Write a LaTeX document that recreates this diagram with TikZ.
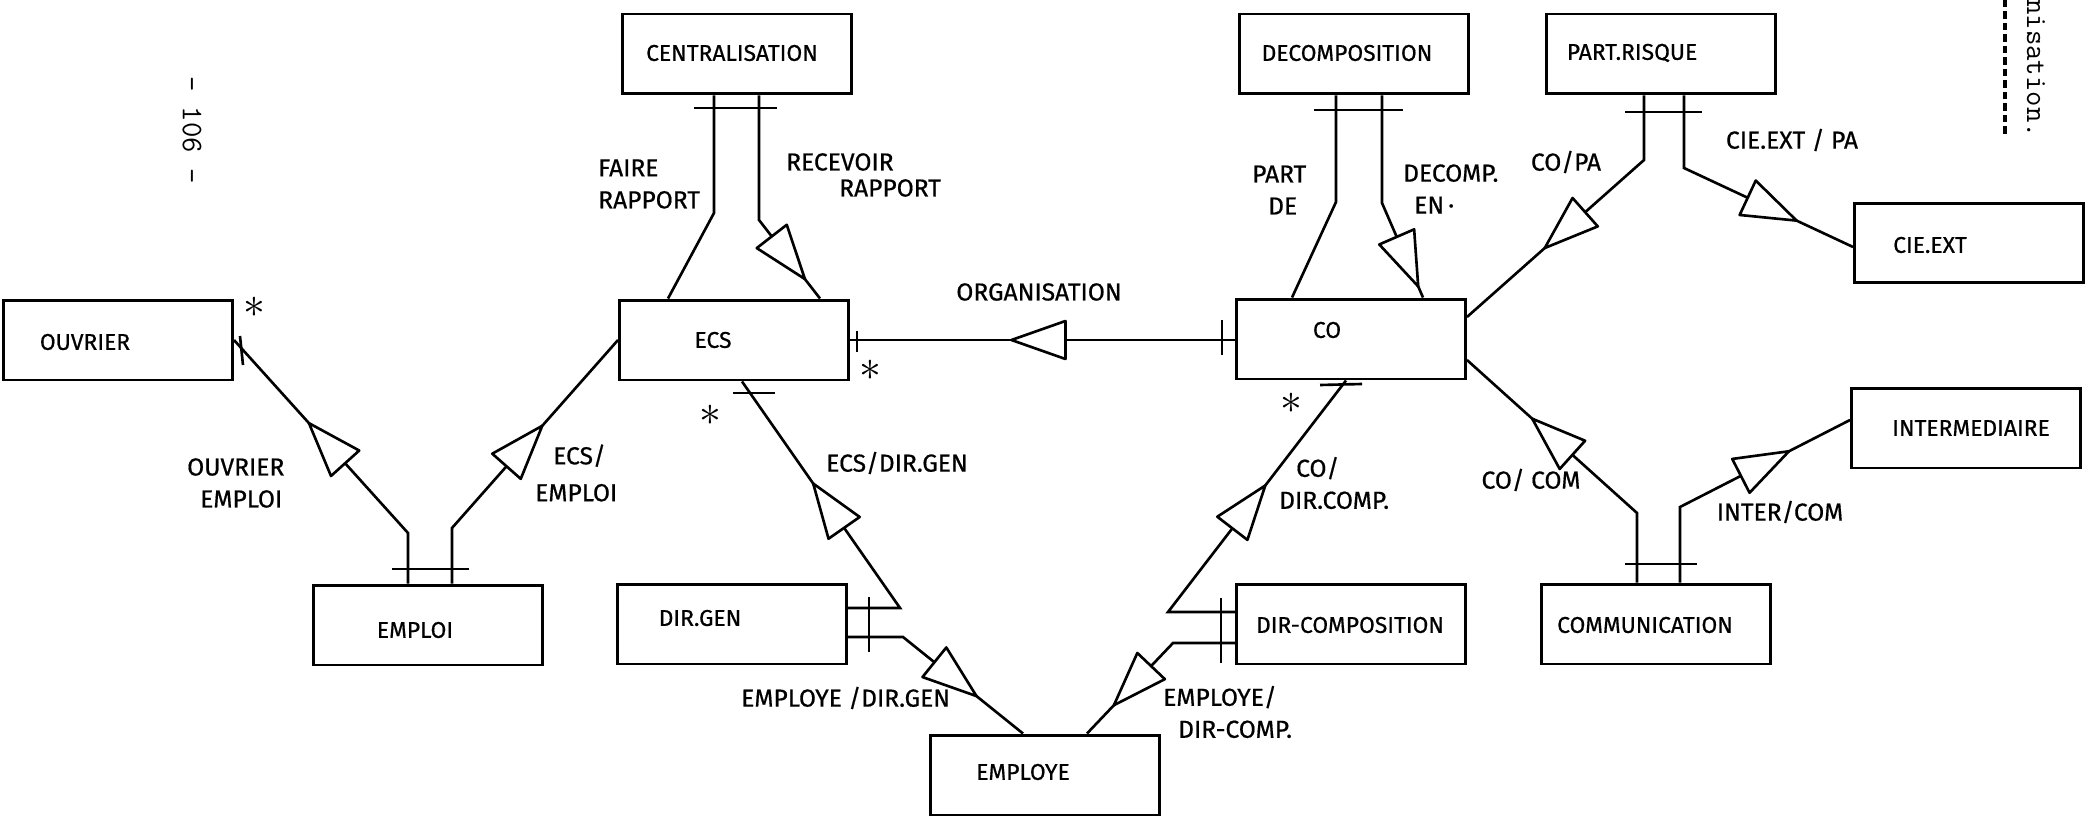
\documentclass[tikz,border=0pt]{standalone}
\usepackage{fontspec}
\setmainfont{Fira Sans}[FakeBold=0.6]
\usetikzlibrary{decorations.markings}
\tikzset{entity/.style={draw,line width=1.7pt,minimum width=4.58cm,minimum height=1.6cm,inner sep=0pt}}
\tikzset{rel/.style={line width=1.5pt}}
\tikzset{lbl/.style={font=\fontsize{14}{18.2}\selectfont}}
\tikzset{tri/.style={postaction={decorate,decoration={markings,
  mark=at position #1 with {\draw[line width=1.5pt,line join=round,fill=white]
    (0,0) -- (-1.08cm,.38cm) -- (-1.08cm,-.38cm) -- cycle;}}}}}
\tikzset{many/.style={font=\fontsize{28}{28}\selectfont,inner sep=0pt}}
\tikzset{typed/.style={font=\fontsize{17}{20}\ttfamily,rotate=-90,inner sep=0pt}}

\begin{document}
\begin{tikzpicture}[x=0.02cm,y=-0.02cm,font=\fontsize{13}{18.2}\selectfont]
        \fill[white] (0,0) rectangle (2095,824);
        \useasboundingbox (0,0) rectangle (2095,824);
        \node(ouvrier)[entity,label={[shift={(-33,2)}]center:OUVRIER}] at (118,340) {};
        \node(centr)[entity,label={[shift={(-5,-1)}]center:CENTRALISATION}] at (737,54) {};
        \node(ecs)[entity,label={[shift={(-21,0)}]center:ECS}] at (734,340) {};
        \node(co)[entity,label={[shift={(-24,-9)}]center:CO}] at (1351,339) {};
        \node(decomp)[entity,label={[shift={(-7,-1)}]center:DECOMPOSITION}] at (1354,54) {};
        \node(part)[entity,label={[shift={(-29,-1)}]center:PART.RISQUE}] at (1661,54) {};
        \node(cieext)[entity,label={[shift={(-39,2)}]center:CIE.EXT}] at (1969,243) {};
        \node(inter)[entity,label={[shift={(5,0)}]center:INTERMEDIAIRE}] at (1966,428) {};
        \node(emploi)[entity,label={[shift={(-13,5)}]center:EMPLOI}] at (428,625) {};
        \node(dirgen)[entity,label={[shift={(-32,-6)}]center:DIR.GEN}] at (732,624) {};
        \node(employe)[entity,label={[shift={(-22,-3)}]center:EMPLOYE}] at (1045,775) {};
        \node(dircomp)[entity,label={[shift={(-1,1)}]center:DIR-COMPOSITION}] at (1351,624) {};
        \node(comm)[entity,label={[shift={(-11,1)}]center:COMMUNICATION}] at (1656,624) {};

        \coordinate(kfr) at (714,213);
        \coordinate(krr) at (759,220);
        \coordinate(kpd) at (1336,202);
        \coordinate(kde) at (1382,203);
        \coordinate(kcp) at (1644,160);
        \coordinate(kcx) at (1684,168);
        \coordinate(kou) at (408,533);
        \coordinate(kem) at (452,528);
        \coordinate(kdg) at (900,608);
        \coordinate(ked) at (903,637);
        \coordinate(kdc) at (1168,612);
        \coordinate(kec) at (1173,643);
        \coordinate(kcc) at (1637,513);
        \coordinate(kic) at (1680,507);

        \draw[rel] (centr.south -| kfr) -- (kfr) -- (ecs.north -| 668,0);
        \draw[rel,tri=-.49cm] (centr.south -| krr) -- (krr) -- (ecs.north -| 820,0);
        \draw[rel,tri=-3.23cm] (co.west |- ecs.east) -- (ecs.east);
        \draw[rel] (decomp.south -| kpd) -- (kpd) -- (co.north -| 1292,0);
        \draw[rel,tri=-.24cm] (decomp.south -| kde) -- (kde) -- (co.north -| 1423,0);
        \draw[rel,tri=-2.08cm] (part.south -| kcp) -- (kcp) -- (co.east |- 0,317);
        \draw[rel,tri=-1.24cm] (part.south -| kcx) -- (kcx) -- (cieext.west |- 0,247);
        \draw[rel,tri=-2.24cm] (emploi.north -| kou) -- (kou) -- (ouvrier.east |- 0,340);
        \draw[rel,tri=-2.29cm] (emploi.north -| kem) -- (kem) -- (ecs.west |- 0,340);
        \draw[rel,tri=-2.49cm] (dirgen.east |- kdg) -- (kdg) -- (ecs.south -| 742,0);
        \draw[rel,tri=-1.19cm] (dirgen.east |- ked) -- (ked) -- (employe.north -| 1023,0);
        \draw[rel,tri=-2.65cm] (dircomp.west |- kdc) -- (kdc) -- (co.south -| 1346,0);
        \draw[rel,tri=-.78cm] (dircomp.west |- kec) -- (kec) -- (employe.north -| 1087,0);
        \draw[rel,tri=-1.75cm] (comm.north -| kcc) -- (kcc) -- (co.east |- 0,360);
        \draw[rel,tri=-1.37cm] (comm.north -| kic) -- (kic) -- (inter.west |- 0,420);

        \draw[rel] (694,108) -- (777,108);
        \draw[rel] (1314,110) -- (1403,110);
        \draw[rel] (1625,112) -- (1702,112);
        \draw[rel] (392,569) -- (469,569);
        \draw[rel] (1625,564) -- (1697,564);
        \draw[rel] (869,597) -- (869,652);
        \draw[rel] (1221,598) -- (1221,663);
        \draw[rel] (857,331) -- (857,352);
        \draw[rel] (1222,320) -- (1222,355);
        \draw[rel] (240,336) -- (243,365);
        \draw[rel] (733,393) -- (775,393);
        \draw[rel] (1320,385) -- (1362,384);

        \node(s1)[many] at (254,307) {$\ast$};
        \node(s2)[many] at (870,370) {$\ast$};
        \node(s3)[many] at (710,415) {$\ast$};
        \node(s4)[many] at (1291,403) {$\ast$};

        \node(faire)[lbl,align=left,anchor=west] at (592,184) {FAIRE\\RAPPORT};
        \node(recevoir)[lbl,align=left,anchor=west] at (780,175) {RECEVOIR\\[-3.4pt]\hspace*{1.06cm}RAPPORT};
        \node(organisation)[lbl] at (1039,292) {ORGANISATION};
        \node(partde)[lbl,align=left,anchor=west] at (1246,190) {PART\\\hspace*{.32cm}DE};
        \node(decompen)[lbl,align=left,anchor=west] at (1397,189) {DECOMP.\\\hspace*{.22cm}EN\,·};
        \node(copa)[lbl] at (1566,162) {CO/PA};
        \node(ciepa)[lbl] at (1792,140) {CIE.EXT / PA};
        \node(ouvemp)[lbl,align=left,anchor=west] at (181,483) {OUVRIER\\\hspace*{.26cm}EMPLOI};
        \node(ecsemp)[lbl,align=left,anchor=west] at (529,473) {\hspace*{.36cm}ECS/\\[2.8pt]EMPLOI};
        \node(ecsdir)[lbl] at (897,463) {ECS/DIR.GEN};
        \node(empdir)[lbl,anchor=west] at (735,698) {EMPLOYE /DIR.GEN};
        \node(codir)[lbl,align=left,anchor=west] at (1273,483) {\hspace*{.34cm}CO/\\DIR.COMP.};
        \node(empcomp)[lbl,align=left,anchor=west] at (1157,712) {EMPLOYE/\\\hspace*{.3cm}DIR-COMP.};
        \node(cocom)[lbl] at (1531,480) {CO/ COM};
        \node(intercom)[lbl] at (1780,512) {INTER/COM};

        \node(page)[typed] at (192,130) {- 106 -};
        \node(word)[typed,anchor=west] at (2036,-1) {nisation.};
        \draw[line width=1.8pt,dash pattern=on .15cm off .08cm] (2005,0) -- (2005,137);
      \end{tikzpicture}
\end{document}
